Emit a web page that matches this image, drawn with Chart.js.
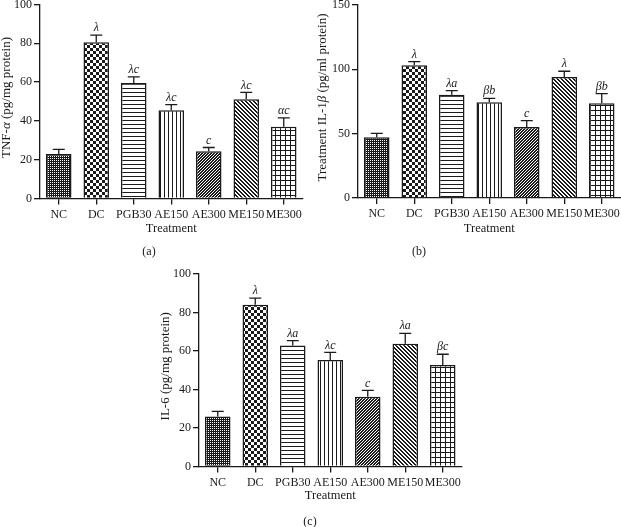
<!DOCTYPE html>
<html>
<head>
<meta charset="utf-8">
<script src="https://cdn.jsdelivr.net/npm/chart.js@4"></script>
<style>
  html, body { margin: 0; padding: 0; background: #fff; }
  body { width: 621px; height: 527px; position: relative; overflow: hidden; }
  canvas { position: absolute; }
</style>
</head>
<body>
<canvas id="chartA" width="310" height="260" style="left:0;top:0"></canvas>
<canvas id="chartB" width="311" height="260" style="left:310px;top:0"></canvas>
<canvas id="chartC" width="330" height="265" style="left:140px;top:262px"></canvas>
<script>
// groups on the x axis
const treatments = ["NC", "DC", "PGB30", "AE150", "AE300", "ME150", "ME300"];

// (a) TNF-alpha, pg/mg protein
const tnfMean = [22.9, 80.6, 59.5, 45.5, 24.3, 51.2, 37.0];
const tnfErr = [2.4, 3.6, 3.2, 2.9, 2.0, 3.5, 4.6];
const tnfMarks = ["", "λ", "λc", "λc", "c", "λc", "αc"];

// (b) IL-1beta, pg/ml protein
const il1bMean = [47.3, 103.2, 80.3, 74.4, 55.2, 94.1, 73.6];
const il1bErr = [2.9, 2.8, 3.1, 3.1, 4.9, 4.4, 7.5];
const il1bMarks = ["", "λ", "λa", "βb", "c", "λ", "βb"];

// (c) IL-6, pg/mg protein
const il6Mean = [26.0, 84.0, 62.8, 55.3, 36.2, 63.8, 52.7];
const il6Err = [2.6, 3.5, 2.6, 4.0, 3.3, 5.4, 5.6];
const il6Marks = ["", "λ", "λa", "λc", "c", "λa", "βc"];

const SERIF = "'Liberation Serif', 'DejaVu Serif', serif";
const INK = "#1a1a1a";
Chart.defaults.font.family = SERIF;
Chart.defaults.font.size = 12;
Chart.defaults.color = INK;

// small pixel tiles for the bar hatching
function makeTile(w, h, paint) {
  const c = document.createElement("canvas");
  c.width = w;
  c.height = h;
  const g = c.getContext("2d");
  g.fillStyle = "#fff";
  g.fillRect(0, 0, w, h);
  g.fillStyle = INK;
  paint(g, w, h);
  return g.createPattern(c, "repeat");
}

function pixelTile(size, test) {
  return makeTile(size, size, (g) => {
    for (let x = 0; x < size; x++)
      for (let y = 0; y < size; y++) if (test(x, y)) g.fillRect(x, y, 1, 1);
  });
}

const patterns = [
  pixelTile(2, (x, y) => !(x === 0 && y === 0)), // NC fine dots
  pixelTile(6, (x, y) => (x < 3) === (y < 3)), // DC checker
  makeTile(4, 4, (g) => g.fillRect(0, 0, 4, 1)), // PGB30 horizontal
  makeTile(4, 4, (g) => g.fillRect(0, 0, 1, 4)), // AE150 vertical
  pixelTile(3, (x, y) => (x + y) % 3 < 2), // AE300 "/"
  pixelTile(4, (x, y) => (x - y + 8) % 4 < 2), // ME150 "\"
  makeTile(5, 5, (g) => { g.fillRect(0, 0, 5, 1); g.fillRect(0, 0, 1, 5); }), // ME300 grid
];

// error bars, letters over bars, rotated y title, panel tag
function makeDecor(cfg) {
  return {
    id: "decor",
    afterDatasetsDraw(chart) {
      const ctx = chart.ctx;
      const yScale = chart.scales.y;
      const meta = chart.getDatasetMeta(0);
      ctx.save();
      ctx.strokeStyle = INK;
      ctx.lineWidth = 1.3;
      ctx.fillStyle = INK;
      ctx.font = "italic 12px " + SERIF;
      ctx.textAlign = "center";
      ctx.textBaseline = "bottom";
      meta.data.forEach((bar, i) => {
        const yMean = yScale.getPixelForValue(cfg.mean[i]);
        const yTop = yScale.getPixelForValue(cfg.mean[i] + cfg.err[i]);
        ctx.beginPath();
        ctx.moveTo(bar.x, yMean);
        ctx.lineTo(bar.x, yTop);
        ctx.moveTo(bar.x - 6, yTop);
        ctx.lineTo(bar.x + 6, yTop);
        ctx.stroke();
        if (cfg.marks[i]) ctx.fillText(cfg.marks[i], bar.x, yTop - 1);
      });
      ctx.restore();
    },
    afterDraw(chart) {
      const ctx = chart.ctx;
      const area = chart.chartArea;
      ctx.save();
      ctx.fillStyle = INK;
      ctx.textBaseline = "middle";
      // y title, some parts italic
      ctx.translate(cfg.titleX, (area.top + area.bottom) / 2 - 4);
      ctx.rotate(-Math.PI / 2);
      const fonts = cfg.yTitle.map((p) => (p[1] ? "italic " : "") + "13px " + SERIF);
      let total = 0;
      cfg.yTitle.forEach((p, i) => { ctx.font = fonts[i]; total += ctx.measureText(p[0]).width; });
      let x = -total / 2;
      ctx.textAlign = "left";
      cfg.yTitle.forEach((p, i) => {
        ctx.font = fonts[i];
        ctx.fillText(p[0], x, 0);
        x += ctx.measureText(p[0]).width;
      });
      ctx.restore();
      ctx.save();
      ctx.fillStyle = INK;
      ctx.font = "12px " + SERIF;
      ctx.textAlign = "center";
      ctx.textBaseline = "middle";
      ctx.fillText(cfg.tag, cfg.tagX, cfg.tagY);
      ctx.restore();
    },
  };
}

function drawPanel(id, cfg) {
  new Chart(document.getElementById(id), {
    type: "bar",
    data: {
      labels: treatments,
      datasets: [
        {
          data: cfg.mean,
          backgroundColor: patterns,
          borderColor: INK,
          borderWidth: 1.5,
          categoryPercentage: 1,
          barPercentage: 0.68,
        },
      ],
    },
    options: {
      responsive: false,
      animation: false,
      layout: { padding: cfg.padding },
      plugins: { legend: { display: false }, tooltip: { enabled: false } },
      scales: {
        x: {
          grid: { display: true, drawOnChartArea: false, offset: false, tickLength: 6, color: INK, lineWidth: 1.3 },
          border: { display: true, color: INK, width: 1.3 },
          ticks: { autoSkip: false, maxRotation: 0, padding: 3, font: { size: 12 } },
          title: { display: true, text: "Treatment", font: { size: 12.5 }, padding: 0 },
          afterFit: (s) => {
            s.height = cfg.xAxisH;
            s.paddingLeft = s.paddingRight = 0;
          },
        },
        y: {
          min: 0,
          max: cfg.yMax,
          grid: { display: true, drawOnChartArea: false, tickLength: 6, color: INK, lineWidth: 1.3 },
          border: { display: true, color: INK, width: 1.3 },
          ticks: { stepSize: cfg.yStep, padding: 2, font: { size: 12 } },
          afterFit: (s) => {
            s.width = cfg.yAxisW;
            s.paddingTop = s.paddingBottom = 0;
          },
        },
      },
    },
    plugins: [makeDecor(cfg)],
  });
}

drawPanel("chartA", {
  mean: tnfMean, err: tnfErr, marks: tnfMarks,
  yMax: 100, yStep: 20,
  yTitle: [["TNF-", false], ["α", true], [" (pg/mg protein)", false]],
  titleX: 7, tag: "(a)", tagX: 149, tagY: 252,
  yAxisW: 40, xAxisH: 38,
  padding: { top: 4.5, right: 7.5, bottom: 23.5, left: 0 },
});

drawPanel("chartB", {
  mean: il1bMean, err: il1bErr, marks: il1bMarks,
  yMax: 150, yStep: 50,
  yTitle: [["Treatment IL-1", false], ["β", true], [" (pg/ml protein)", false]],
  titleX: 13, tag: "(b)", tagX: 109, tagY: 252,
  yAxisW: 48, xAxisH: 38,
  padding: { top: 5, right: 0.5, bottom: 24, left: 0 },
});

drawPanel("chartC", {
  mean: il6Mean, err: il6Err, marks: il6Marks,
  yMax: 100, yStep: 20,
  yTitle: [["IL-6 (pg/mg protein)", false]],
  titleX: 26, tag: "(c)", tagX: 170, tagY: 260,
  yAxisW: 59, xAxisH: 37,
  padding: { top: 12, right: 8.5, bottom: 23.5, left: 0 },
});
</script>
</body>
</html>
